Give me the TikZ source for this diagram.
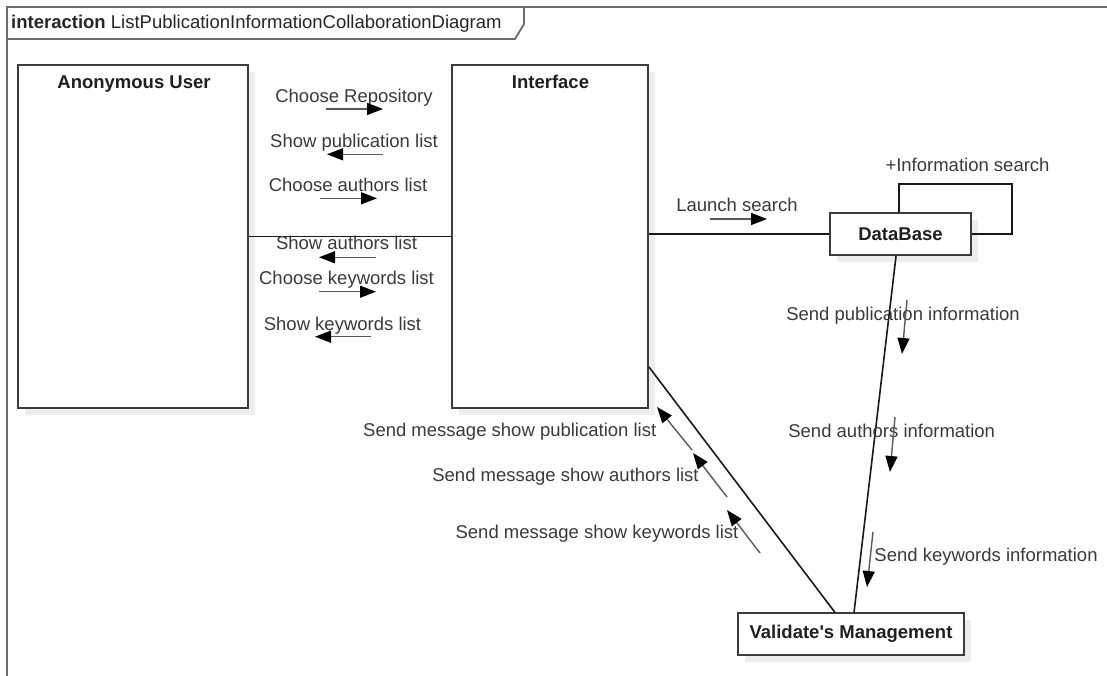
\documentclass[tikz,border=0pt]{standalone}
\usepackage{fontspec}
\setmainfont{Liberation Sans}
\usetikzlibrary{arrows.meta,shadows}
\definecolor{framegray}{HTML}{6A6A6A}
\definecolor{boxgray}{HTML}{3C3C3C}
\definecolor{txtgray}{HTML}{3A3A3A}
\definecolor{msggray}{HTML}{5A5A5A}
\begin{document}
\begin{tikzpicture}[x=1pt,y=-1pt,
  box/.style={draw=boxgray, line width=1.8pt, fill=white, inner sep=0pt,
    drop shadow={shadow xshift=7pt, shadow yshift=-7pt, fill=black!7, opacity=1}},
  ttl/.style={font=\fontsize{18.5}{22}\selectfont\bfseries, text=black!88, inner sep=0pt, anchor=base},
  msg/.style={font=\fontsize{18.5}{22}\selectfont, text=txtgray, inner sep=0pt, anchor=base},
  link/.style={line width=1.6pt, draw=black!90},
  marrow/.style={draw=msggray, line width=1.4pt, -{Triangle[length=16pt,width=12pt,color=black]}},
]
\useasboundingbox (0,0) rectangle (1107,676);
\fill[white] (0,0) rectangle (1107,676);
\begin{scope}
\clip (0,0) rectangle (1107,676);
% frame
\draw[framegray, line width=1.8pt] (7,700) -- (7,7) -- (1120,7);
\draw[framegray, line width=1.8pt] (7,39) -- (515,39) -- (524,24) -- (524,7);
\end{scope}
\node[anchor=base west, inner sep=0pt, font=\fontsize{18.5}{22}\selectfont, text=black!85] (framelbl) at (11,28.5) {\textbf{interaction} ListPublicationInformationCollaborationDiagram};

% boxes
\node[box, minimum width=230pt, minimum height=343pt] (anon) at (133,236.5) {};
\node[box, minimum width=196pt, minimum height=343pt] (iface) at (550,236.5) {};
\node[box, minimum width=141pt, minimum height=42.6pt] (db) at (900.5,234) {};
\node[box, minimum width=226.6pt, minimum height=41.7pt] (val) at (851,634.2) {};

% titles
\node[ttl] (anonT) at (134,88.5) {Anonymous User};
\node[ttl] (ifaceT) at (550.5,88.5) {Interface};
\node[ttl] (dbT) at (900.5,240.5) {DataBase};
\node[ttl] (valT) at (851,638.8) {Validate\textquotesingle s Management};

% links
\draw[link] (anon.east) -- (iface.west);
\draw[link] (iface.east |- db.west) -- (db.west);
\draw[link] ([xshift=-1.5pt]db.north) -- ++(0,-27.5) -- ++(113,0) |- (db.east);
\draw[link] ([xshift=-4.5pt]db.south) -- ([xshift=3pt]val.north);
\draw[link] ([yshift=42pt]iface.south east) -- ([xshift=-16pt]val.north);

% messages Anonymous <-> Interface
\node[msg] (m1) at (354,102.7) {Choose Repository};
\coordinate (m1a) at (326,109); \coordinate (m1b) at (383,109);
\draw[marrow] (m1a) -- (m1b);
\node[msg] (m2) at (354,147.3) {Show publication list};
\coordinate (m2a) at (383,154.3); \coordinate (m2b) at (327,154.3);
\draw[marrow] (m2a) -- (m2b);
\node[msg] (m3) at (348,191.7) {Choose authors list};
\coordinate (m3a) at (320,198.3); \coordinate (m3b) at (377,198.3);
\draw[marrow] (m3a) -- (m3b);
\node[msg] (m4) at (346.5,250) {Show authors list};
\coordinate (m4a) at (376,257.3); \coordinate (m4b) at (319,257.3);
\draw[marrow] (m4a) -- (m4b);
\node[msg] (m5) at (346.5,284) {Choose keywords list};
\coordinate (m5a) at (319,291.7); \coordinate (m5b) at (376,291.7);
\draw[marrow] (m5a) -- (m5b);
\node[msg] (m6) at (342.5,330) {Show keywords list};
\coordinate (m6a) at (371,336.7); \coordinate (m6b) at (315,336.7);
\draw[marrow] (m6a) -- (m6b);

% Interface -> DataBase
\node[msg] (m7) at (737,211.7) {Launch search};
\coordinate (m7a) at (710,219); \coordinate (m7b) at (767,219);
\draw[marrow] (m7a) -- (m7b);
\node[msg] (m8) at (967.5,171.7) {+Information search};

% DataBase -> Validate
\node[msg] (m9) at (903,320) {Send publication information};
\coordinate (m9a) at (907,300); \coordinate (m9b) at (902,354);
\draw[marrow] (m9a) -- (m9b);
\node[msg] (m10) at (891.7,437.3) {Send authors information};
\coordinate (m10a) at (895,417); \coordinate (m10b) at (890,472);
\draw[marrow] (m10a) -- (m10b);
\node[msg] (m11) at (986,561.7) {Send keywords information};
\coordinate (m11a) at (873,532); \coordinate (m11b) at (867,587);
\draw[marrow] (m11a) -- (m11b);

% Validate -> Interface
\node[msg] (m12) at (509.7,436) {Send message show publication list};
\coordinate (m12a) at (692,450); \coordinate (m12b) at (657,407);
\draw[marrow] (m12a) -- (m12b);
\node[msg] (m13) at (565.5,481.7) {Send message show authors list};
\coordinate (m13a) at (727,497); \coordinate (m13b) at (693,453);
\draw[marrow] (m13a) -- (m13b);
\node[msg] (m14) at (597,538.3) {Send message show keywords list};
\coordinate (m14a) at (760,553); \coordinate (m14b) at (727,510);
\draw[marrow] (m14a) -- (m14b);
\end{tikzpicture}
\end{document}
